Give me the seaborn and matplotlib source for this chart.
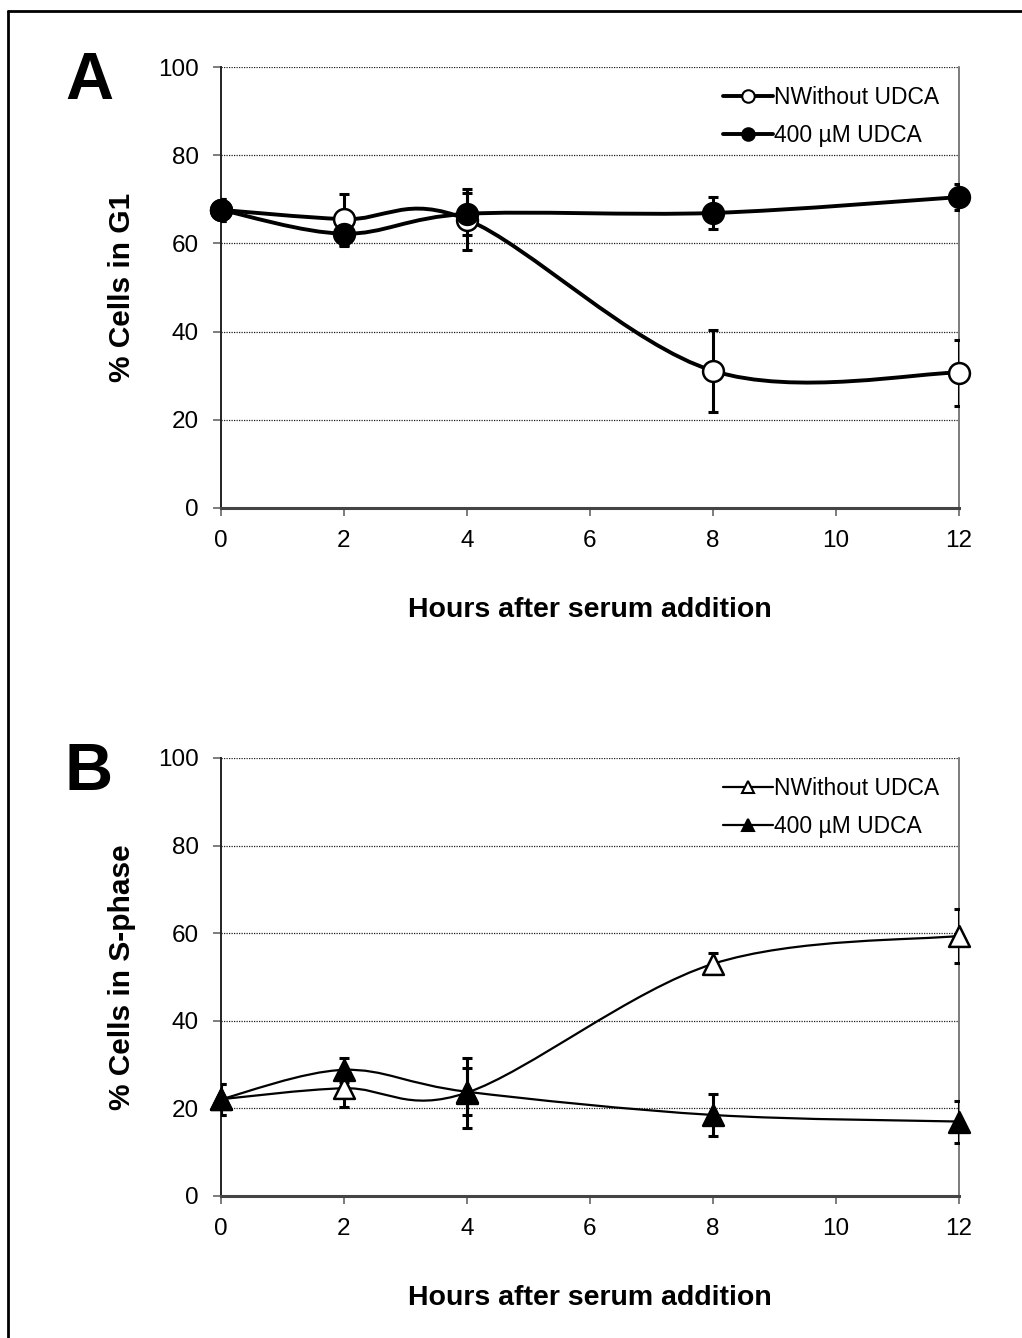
import numpy as np
import matplotlib
matplotlib.use("Agg")
import matplotlib.pyplot as plt
import seaborn as sns
import pandas as pd
from matplotlib.path import Path
from matplotlib.patches import PathPatch
from matplotlib.lines import Line2D

# ---------------- data ----------------
hours = [0, 2, 4, 8, 12]

g1_without = [67.6, 65.5, 65.4, 31.1, 30.7]
g1_without_err = [2.5, 5.8, 7.0, 9.3, 7.5]
g1_udca = [67.6, 62.2, 66.7, 66.9, 70.5]
g1_udca_err = [2.5, 2.7, 4.8, 3.6, 3.0]

s_without = [22.1, 24.6, 23.6, 53.0, 59.4]
s_without_err = [3.5, 4.2, 8.0, 2.4, 6.2]
s_udca = [22.1, 28.8, 23.8, 18.5, 17.0]
s_udca_err = [3.5, 2.8, 5.4, 4.9, 4.8]

series_labels = ["NWithout UDCA", "400 \u00b5M UDCA"]
panel_labels = ["A", "B"]
ylabels = ["% Cells in G1", "% Cells in S-phase"]
xlabel = "Hours after serum addition"
xticks = [0, 2, 4, 6, 8, 10, 12]
yticks = [0, 20, 40, 60, 80, 100]

# ---------------- style ----------------
sns.set_theme(style="white")
plt.rcParams["font.family"] = ["Liberation Sans", "DejaVu Sans"]
plt.rcParams["text.color"] = "black"
plt.rcParams["axes.labelcolor"] = "black"
plt.rcParams["xtick.color"] = "black"
plt.rcParams["ytick.color"] = "black"

W, H = 1022, 1338
fig = plt.figure(figsize=(W / 100, H / 100), dpi=100)


def smooth_path(x, y):
    """Excel-like smoothed line: cubic Bezier through the data points."""
    P = np.column_stack([x, y]).astype(float)
    n = len(P)
    verts = [P[0]]
    codes = [Path.MOVETO]
    for i in range(n - 1):
        p_prev = P[i - 1] if i > 0 else P[i]
        p_next2 = P[i + 2] if i + 2 < n else P[i + 1]
        c1 = P[i] + (P[i + 1] - p_prev) / 6.0
        c2 = P[i + 1] - (p_next2 - P[i]) / 6.0
        verts += [c1, c2, P[i + 1]]
        codes += [Path.CURVE4] * 3
    return Path(verts, codes)


def panel(rect, ya, ya_err, yb, yb_err, marker, ms, lw, elw, ylabel, letter, letter_y, ms_leg):
    ax = fig.add_axes(rect)
    ax.set_xlim(0, 12)
    ax.set_ylim(0, 100)
    # gridlines
    for gv in yticks[1:]:
        ax.axhline(gv, color="#222222", lw=0.9, ls=(0, (1, 1)), zorder=0)
    # smoothed lines
    for yy in (ya, yb):
        ax.add_patch(PathPatch(smooth_path(hours, yy), fill=False, ec="black",
                               lw=lw, zorder=2, capstyle="round"))
    # error bars
    for yy, ee in ((ya, ya_err), (yb, yb_err)):
        ax.errorbar(hours, yy, yerr=ee, fmt="none", ecolor="black", elinewidth=elw,
                    capsize=3.8, capthick=elw, zorder=3)
    # markers via seaborn
    df = pd.DataFrame({"h": hours * 2, "v": list(ya) + list(yb),
                       "s": [series_labels[0]] * 5 + [series_labels[1]] * 5})
    sns.scatterplot(data=df[df.s == series_labels[0]], x="h", y="v", ax=ax,
                    marker=marker, s=ms ** 2, color="white", edgecolor="black",
                    linewidth=1.8, zorder=4, legend=False, clip_on=False)
    sns.scatterplot(data=df[df.s == series_labels[1]], x="h", y="v", ax=ax,
                    marker=marker, s=ms ** 2, color="black", edgecolor="black",
                    linewidth=1.8, zorder=5, legend=False, clip_on=False)
    # axes styling
    ax.set_xticks(xticks)
    ax.set_yticks(yticks)
    ax.tick_params(axis="both", direction="out", length=6, width=1.2, color="#666666",
                   labelsize=17.5, labelcolor="black", pad=10, left=True, bottom=True)
    ax.spines["left"].set_color("#222222")
    ax.spines["bottom"].set_color("#444444")
    ax.spines["left"].set_linewidth(1.4)
    ax.spines["bottom"].set_linewidth(2.2)
    ax.spines["right"].set_color("#666666")
    ax.spines["right"].set_linewidth(1.2)
    ax.spines["top"].set_visible(False)
    ax.set_xlabel(xlabel, fontsize=20.5, fontweight="bold", labelpad=32, color="black")
    ax.set_ylabel(ylabel, fontsize=21.5, fontweight="bold", labelpad=16, color="black")
    # legend
    handles = [
        Line2D([], [], color="black", lw=lw, marker=marker, ms=ms_leg, mfc="white",
               mec="black", mew=1.5),
        Line2D([], [], color="black", lw=lw, marker=marker, ms=ms_leg, mfc="black",
               mec="black", mew=1.5),
    ]
    leg = ax.legend(handles, series_labels, loc="upper right", bbox_to_anchor=(1.0, 1.0),
                    frameon=False, fontsize=16.5, handlelength=2.2, handletextpad=0.05,
                    labelspacing=0.65, borderaxespad=0.45)
    for t in leg.get_texts():
        t.set_color("black")
    # panel letter
    fig.text(89 / W, 1 - letter_y / H, letter, fontsize=48,
             fontweight="bold", ha="center", va="center", color="black")
    return ax


rectA = [221 / W, 1 - 508 / H, (959 - 221) / W, (508 - 67) / H]
rectB = [221 / W, 1 - 1196 / H, (959 - 221) / W, (1196 - 758) / H]

panel(rectA, g1_without, g1_without_err, g1_udca, g1_udca_err, "o", 15, 2.8, 2.2,
      ylabels[0], panel_labels[0], 82, 9)
panel(rectB, s_without, s_without_err, s_udca, s_udca_err, "^", 15, 1.6, 2.2,
      ylabels[1], panel_labels[1], 773, 9)

# outer frame (left and top edges)
fig.add_artist(Line2D([8 / W, 8 / W], [0, 1 - 11 / H], transform=fig.transFigure,
                      color="black", lw=2))
fig.add_artist(Line2D([8 / W, 1], [1 - 11 / H, 1 - 11 / H], transform=fig.transFigure,
                      color="black", lw=2))

fig.savefig("out.png", dpi=100)
